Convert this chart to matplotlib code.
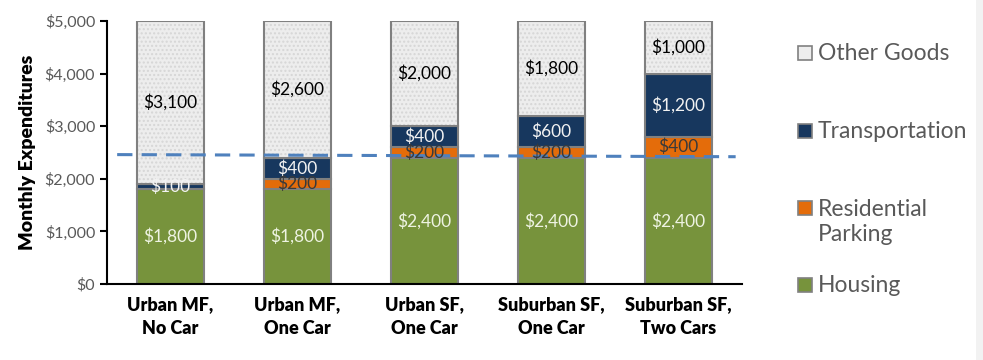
import matplotlib.pyplot as plt
from matplotlib.patches import Rectangle
import numpy as np

plt.rcParams['font.family'] = ['Lato', 'DejaVu Sans']

categories = ['Urban MF,\nNo Car', 'Urban MF,\nOne Car', 'Urban SF,\nOne Car',
              'Suburban SF,\nOne Car', 'Suburban SF,\nTwo Cars']
housing = [1800, 1800, 2400, 2400, 2400]
parking = [0, 200, 200, 200, 400]
transport = [100, 400, 400, 600, 1200]
other = [3100, 2600, 2000, 1800, 1000]
series_names = ['Housing', 'Residential\nParking', 'Transportation', 'Other Goods']
colors = ['#77933c', '#e46c0a', '#17375e', '#ededed']
label_colors = ['#eef3e2', '#3a3a3a', '#f2f2f2', '#000000']

# dashed reference line (left end, right end)
ref_x = [-0.42, 4.45]
ref_y = [2460, 2420]

fig = plt.figure(figsize=(9.83, 3.6), dpi=100)
ax = fig.add_axes([107 / 983, 1 - 284 / 360, (742 - 107) / 983, 263 / 360])

x = np.arange(len(categories))
width = 0.535
bottom = np.zeros(len(categories))
series = [housing, parking, transport, other]
for i, (vals, col, lc) in enumerate(zip(series, colors, label_colors)):
    vals = np.array(vals, dtype=float)
    if i == 3:
        # speckled fill, then grey outline on top
        ax.bar(x, vals, width, bottom=bottom, color=col, edgecolor='#d6d6d6',
               hatch='....', linewidth=0, zorder=2)
        ax.bar(x, vals, width, bottom=bottom, fill=False, edgecolor='#808080',
               linewidth=1.5, zorder=2)
    else:
        ax.bar(x, vals, width, bottom=bottom, color=col, edgecolor='#808080',
               linewidth=1.5, zorder=2)
    for xi, v, b0 in zip(x, vals, bottom):
        if v > 0:
            ax.text(xi, b0 + v / 2, f'${v:,.0f}', ha='center', va='center',
                    color=lc, fontsize=12.5, zorder=4)
    bottom += vals

ax.plot(ref_x, ref_y, color='#4f81bd', linestyle=(0, (5, 3)), linewidth=2.2, zorder=3)

ax.set_xlim(-0.5, 4.5)
ax.set_ylim(0, 5000)
ax.set_yticks(np.arange(0, 5001, 1000))
ax.set_yticklabels([f'${v:,.0f}' for v in range(0, 5001, 1000)], color='#595959', fontsize=11.5)
ax.set_xticks(x)
ax.set_xticklabels(categories, fontsize=13, fontweight='heavy', linespacing=1.45)
ax.tick_params(axis='x', length=0, pad=9)
ax.tick_params(axis='y', length=5, width=1.5, direction='out', color='black')
for s in ['top', 'right']:
    ax.spines[s].set_visible(False)
ax.spines['left'].set_linewidth(1.5)
ax.spines['bottom'].set_linewidth(1.5)
ax.set_ylabel('Monthly Expenditures', fontsize=14, fontweight='heavy', labelpad=6)

# legend drawn manually
legend_y = [53, 131, 222, 285]
legend_order = [3, 2, 1, 0]
for yy, idx in zip(legend_y, legend_order):
    ybox = 1 - yy / 360
    if idx == 1:
        ybox = 1 - 208 / 360
    fig.patches.append(Rectangle((798 / 983, ybox - 7 / 360), 14 / 983, 14 / 360,
                                 transform=fig.transFigure, facecolor=colors[idx],
                                 edgecolor='#808080', linewidth=1.2))
    fig.text(818 / 983, 1 - yy / 360, series_names[idx], fontsize=16.5, color='#595959',
             va='center', ha='left', linespacing=1.25)

fig.patches.append(Rectangle((976 / 983, 0), 7 / 983, 1, transform=fig.transFigure,
                             facecolor='#f2f2f2', edgecolor='none'))

fig.savefig('out.png', dpi=100)
